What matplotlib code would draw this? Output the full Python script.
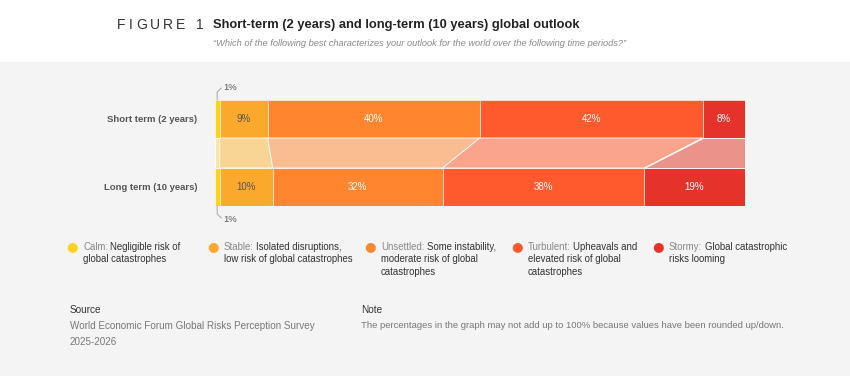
import matplotlib.pyplot as plt
import numpy as np
from matplotlib.patches import Polygon, Rectangle

# data
categories = ["Calm", "Stable", "Unsettled", "Turbulent", "Stormy"]
short_term = [1, 9, 40, 42, 8]
long_term = [1, 10, 32, 38, 19]
row_labels = ["Short term (2 years)", "Long term (10 years)"]
legend_text = [
    ["Negligible risk of", "global catastrophes"],
    ["Isolated disruptions,", "low risk of global catastrophes"],
    ["Some instability,", "moderate risk of global", "catastrophes"],
    ["Upheavals and", "elevated risk of global", "catastrophes"],
    ["Global catastrophic", "risks looming"],
]
colors = ["#FFD21E", "#FBA92C", "#FF862E", "#FF5A2E", "#E5322A"]
band_colors = ["#FBE7A1", "#F8D595", "#FABD92", "#FAA48E", "#EB928B"]

plt.rcParams["font.family"] = ["Liberation Sans", "DejaVu Sans"]

W, H = 850, 376
fig = plt.figure(figsize=(W / 100, H / 100), dpi=100)
fig.patch.set_facecolor("#f4f4f4")
fig.patches.append(Rectangle((0, 1 - 62 / H), 1, 62 / H, transform=fig.transFigure,
                             facecolor="white", edgecolor="none", zorder=0))
renderer = fig.canvas.get_renderer()


def px(x, y):
    return x / W, 1 - y / H


# title block, letter-spaced "FIGURE 1"
cx = 117
for ch in "FIGURE 1":
    t = fig.text(*px(cx, 25), ch, fontsize=10, color="#333333", va="center")
    cx += t.get_window_extent(renderer).width + 3.2
fig.text(*px(213, 25), "Short-term (2 years) and long-term (10 years) global outlook",
         fontsize=9.3, fontweight="bold", color="#222222", va="center")
fig.text(*px(213, 44), "\u201cWhich of the following best characterizes your outlook for the world over the following time periods?\u201d",
         fontsize=6.7, style="italic", color="#888888", va="center")

# bars
x0, x1 = 214.5, 745
y_top, y_bot = 100, 206
ax = fig.add_axes([x0 / W, 1 - y_bot / H, (x1 - x0) / W, (y_bot - y_top) / H])
ax.set_xlim(0, 100)
ax.set_ylim(106, 0)
ax.axis("off")

bar_h = 38
rows = [(short_term, 0), (long_term, 68)]
cum_s = np.concatenate([[0], np.cumsum(short_term)])
cum_l = np.concatenate([[0], np.cumsum(long_term)])

for vals, top in rows:
    left = 0
    for i, v in enumerate(vals):
        ax.barh(top + bar_h / 2, v, left=left, height=bar_h, color=colors[i],
                edgecolor="white", linewidth=0.4)
        if v > 2:
            tc = "#555555" if i == 1 else "white"
            ax.text(left + v / 2, top + bar_h / 2, f"{v}%", ha="center", va="center",
                    fontsize=7, color=tc)
        left += v

for i in range(len(categories)):
    poly = Polygon([(cum_s[i], bar_h), (cum_s[i + 1], bar_h),
                    (cum_l[i + 1], 68), (cum_l[i], 68)], closed=True,
                   facecolor=band_colors[i], edgecolor="white", linewidth=0.6)
    ax.add_patch(poly)

# small 1% callouts
ax.plot([short_term[0] / 2, short_term[0] / 2, 1.3], [0, -8, -12], color="#999999",
        lw=0.6, clip_on=False)
ax.text(1.6, -13, f"{short_term[0]}%", fontsize=6.8, color="#555555", va="center")
ax.plot([long_term[0] / 2, long_term[0] / 2, 1.3], [106, 114, 118], color="#999999",
        lw=0.6, clip_on=False)
ax.text(1.6, 119, f"{long_term[0]}%", fontsize=6.8, color="#555555", va="center")

for lab, (vals, top) in zip(row_labels, rows):
    fig.text(*px(197, y_top + top + bar_h / 2), lab, ha="right", va="center",
             fontsize=6.8, fontweight="bold", color="#555555")

# legend
leg_x = [72, 213, 370, 517, 658]
for i, cat in enumerate(categories):
    cx = leg_x[i]
    fig.text(*px(cx, 247), "\u25CF", color=colors[i], fontsize=9.5,
             ha="center", va="center", family="DejaVu Sans")
    t = fig.text(*px(cx + 11, 247), cat + ":", fontsize=6.9, color="#888888",
                 va="center")
    bb = t.get_window_extent(renderer)
    lines = legend_text[i]
    fig.text(bb.x1 / W + 2.5 / W, 1 - 247 / H, lines[0], fontsize=6.9, color="#333333",
             va="center")
    for j, ln in enumerate(lines[1:]):
        fig.text(*px(cx + 11, 247 + 12.5 * (j + 1)), ln, fontsize=6.9, color="#333333",
                 va="center")

# source and note
fig.text(*px(70, 310), "Source", fontsize=7.2, color="#333333", va="center")
fig.text(*px(70, 326), "World Economic Forum Global Risks Perception Survey", fontsize=7.1,
         color="#777777", va="center")
fig.text(*px(70, 342), "2025-2026", fontsize=7.1, color="#777777", va="center")
fig.text(*px(361, 310), "Note", fontsize=7.2, color="#333333", va="center")
fig.text(*px(361, 326),
         "The percentages in the graph may not add up to 100% because values have been rounded up/down.",
         fontsize=6.8, color="#777777", va="center")

fig.savefig("out.png", dpi=100, facecolor=fig.get_facecolor())
